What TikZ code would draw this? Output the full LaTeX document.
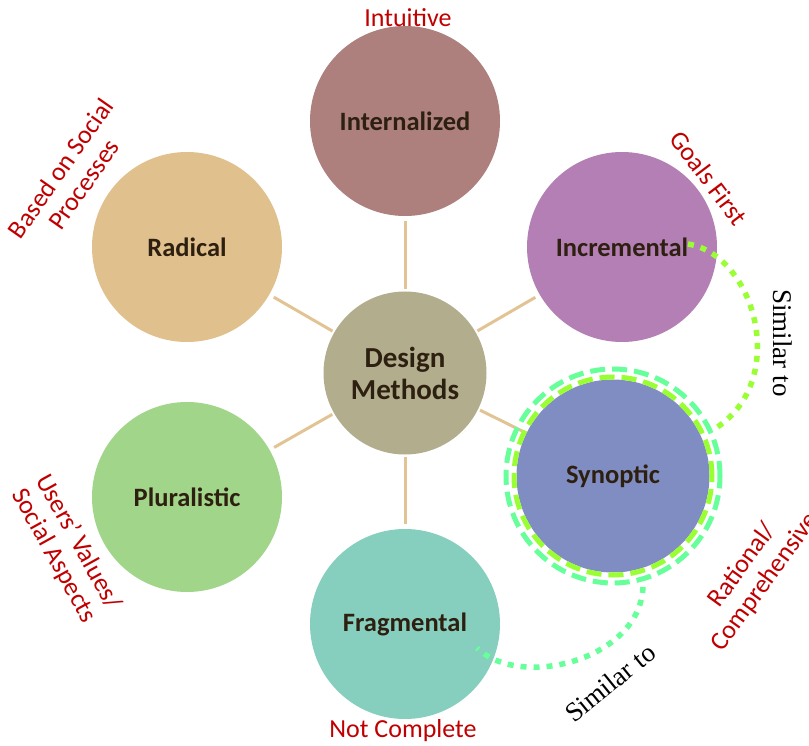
\documentclass[tikz,border=0pt]{standalone}
\usepackage{fontspec}
\setmainfont{Carlito}
\newfontfamily\timesfont{Liberation Serif}
\usepackage{tikz}
\pgfdeclarelayer{background}
\pgfdeclarelayer{foreground}
\pgfsetlayers{background,main,foreground}
\definecolor{intcol}{RGB}{173,128,126}
\definecolor{inccol}{RGB}{180,127,181}
\definecolor{syncol}{RGB}{128,141,194}
\definecolor{fracol}{RGB}{134,206,190}
\definecolor{plucol}{RGB}{161,213,138}
\definecolor{radcol}{RGB}{224,192,141}
\definecolor{dmcol}{RGB}{178,173,141}
\definecolor{spokecol}{RGB}{226,196,148}
\definecolor{methodtext}{RGB}{46,32,16}
\definecolor{tagred}{RGB}{192,0,0}
\definecolor{ringlime}{RGB}{153,255,51}
\definecolor{ringmint}{RGB}{102,255,153}

\begin{document}
\begin{tikzpicture}[x=1pt,y=-1pt,
  method/.style={circle,minimum size=190pt,inner sep=0pt,align=center,text=methodtext,font=\fontsize{26.5}{32}\selectfont\bfseries},
  spoke/.style={draw=spokecol,line width=3pt,shorten <=2pt,shorten >=5pt},
  tag/.style={text=tagred,align=center,font=\fontsize{26}{28}\selectfont},
  similar/.style={font=\timesfont\fontsize{27}{30}\selectfont},
  link/.style={line width=5.5pt,dash pattern=on 6pt off 7pt},
  ring/.style={line width=5pt,dash pattern=on 15pt off 7pt}]
\useasboundingbox (0,0) rectangle (809,746);
\node[method,fill=dmcol,minimum size=163pt,font=\fontsize{29}{32}\selectfont\bfseries] (dm) at (405,373) {Design\\Methods};
\node[method,fill=intcol] (int) at (405,121) {Internalized};
\node[method,fill=inccol] (inc) at (622,247) {Incremental};
\node[method,fill=syncol,minimum size=193pt] (syn) at (613,476) {Synoptic};
\node[method,fill=fracol] (fra) at (405,624) {Fragmental};
\node[method,fill=plucol] (plu) at (187,497) {Pluralistic};
\node[method,fill=radcol] (rad) at (187,247) {Radical};
\begin{pgfonlayer}{background}
\draw[spoke] (dm) -- (int);
\draw[spoke] (dm) -- (inc);
\draw[spoke,shorten >=0pt] (dm) -- (syn);
\draw[spoke] (dm) -- (fra);
\draw[spoke] (dm) -- (plu);
\draw[spoke] (dm) -- (rad);
\end{pgfonlayer}
\begin{pgfonlayer}{foreground}
\draw[ring,draw=ringmint] (syn.center) circle[radius=107pt];
\draw[ring,draw=ringlime] (syn.center) circle[radius=99pt];
\coordinate (incend) at (688,244);
\coordinate (syntop) at (716,428);
\coordinate (synbot) at (643,587);
\coordinate (fraend) at (477,648);
\draw[link,draw=ringlime] (incend) .. controls (755,255) and (790,380) .. (syntop);
\draw[link,draw=ringmint] (synbot) .. controls (640,660) and (520,690) .. (fraend);
\end{pgfonlayer}
\node[tag] (intuitive) at (408,18) {Intuitive};
\node[tag,rotate=-53] (goals) at (709,178) {Goals First};
\node[tag,rotate=54] (rational) at (754,574) {Rational/\\Comprehensive};
\node[tag] (notcomplete) at (403,731) {Not Complete};
\node[tag,rotate=-61] (users) at (66,549) {Users' Values/\\Social Aspects};
\node[tag,rotate=55] (based) at (72,176) {Based on Social\\Processes};
\node[similar,rotate=-90] (simone) at (783,343) {Similar to};
\node[similar,rotate=39] (simtwo) at (610,683) {Similar to};
\end{tikzpicture}
\end{document}
